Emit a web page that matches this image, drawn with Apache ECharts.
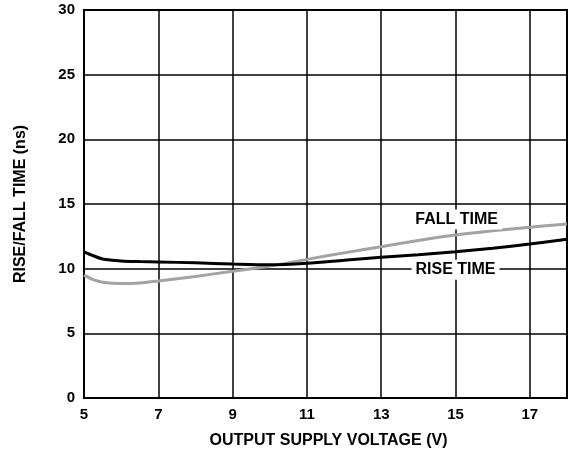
<!DOCTYPE html>
<html>
<head>
<meta charset="utf-8">
<script src="https://cdn.jsdelivr.net/npm/echarts@6/dist/echarts.min.js"></script>
<style>
html,body{margin:0;padding:0;background:#fff;}
#chart{width:577px;height:454px;}
</style>
</head>
<body>
<div id="chart"></div>
<script>
// Data
var voltage  = [5, 5.25, 5.5, 6, 6.5, 7, 8, 9, 10, 11, 12, 13, 14, 15, 16, 17, 18];
var riseTime = [11.3, 11.0, 10.75, 10.6, 10.55, 10.52, 10.45, 10.36, 10.3, 10.42, 10.65, 10.88, 11.08, 11.3, 11.58, 11.9, 12.27];
var fallTime = [9.5, 9.15, 8.95, 8.85, 8.9, 9.05, 9.4, 9.8, 10.2, 10.72, 11.22, 11.7, 12.18, 12.6, 12.93, 13.2, 13.46];
var xTicks = [5, 7, 9, 11, 13, 15, 17];
var yTicks = [0, 5, 10, 15, 20, 25, 30];
var labelFall = {name: 'FALL TIME', coord: [15.03, 13.8]};
var labelRise = {name: 'RISE TIME', coord: [15.0, 9.92]};

var font = 'Liberation Sans, Arial, sans-serif';
var chart = echarts.init(document.getElementById('chart'), null, {renderer: 'canvas'});

function pairs(xs, ys) { return xs.map(function (x, i) { return [x, ys[i]]; }); }

var labelStyle = {
  show: true, position: 'inside', formatter: '{b}',
  fontFamily: font, fontWeight: 'bold', fontSize: 16, color: '#000',
  backgroundColor: '#fff', padding: [2, 4]
};

chart.setOption({
  animation: false,
  backgroundColor: '#fff',
  grid: {left: 84, right: 10, top: 10, bottom: 56, show: true, borderColor: '#000', borderWidth: 2, backgroundColor: 'transparent'},
  xAxis: {
    type: 'value', min: 5, max: 18,
    name: 'OUTPUT SUPPLY VOLTAGE (V)', nameLocation: 'middle', nameGap: 35,
    nameTextStyle: {fontFamily: font, fontWeight: 'bold', fontSize: 16, color: '#000', padding: [0, 0, 0, 6]},
    axisLine: {show: false},
    axisTick: {show: false, customValues: xTicks},
    axisLabel: {customValues: xTicks, fontFamily: font, fontWeight: 'bold', fontSize: 15, color: '#000', margin: 9},
    splitLine: {show: true, lineStyle: {color: '#000', width: 1.5}}
  },
  yAxis: {
    type: 'value', min: 0, max: 30, interval: 5,
    name: 'RISE/FALL TIME (ns)', nameLocation: 'middle', nameGap: 55, nameRotate: 90,
    nameTextStyle: {fontFamily: font, fontWeight: 'bold', fontSize: 16, color: '#000'},
    axisLine: {show: false},
    axisTick: {show: false},
    axisLabel: {fontFamily: font, fontWeight: 'bold', fontSize: 15, color: '#000', margin: 9,
      formatter: function (v) { return yTicks.indexOf(v) >= 0 ? String(v) : ''; }},
    splitLine: {show: true, lineStyle: {color: '#000', width: 1.5}}
  },
  series: [
    {
      type: 'line', name: 'FALL TIME', data: pairs(voltage, fallTime), smooth: 0.3,
      symbol: 'none', lineStyle: {color: '#a3a3a3', width: 3},
      markPoint: {symbol: 'circle', symbolSize: 0, label: labelStyle, data: [labelFall]}
    },
    {
      type: 'line', name: 'RISE TIME', data: pairs(voltage, riseTime), smooth: 0.3,
      symbol: 'none', lineStyle: {color: '#000', width: 3},
      markPoint: {symbol: 'circle', symbolSize: 0, label: labelStyle, data: [labelRise]}
    }
  ]
});
</script>
</body>
</html>
